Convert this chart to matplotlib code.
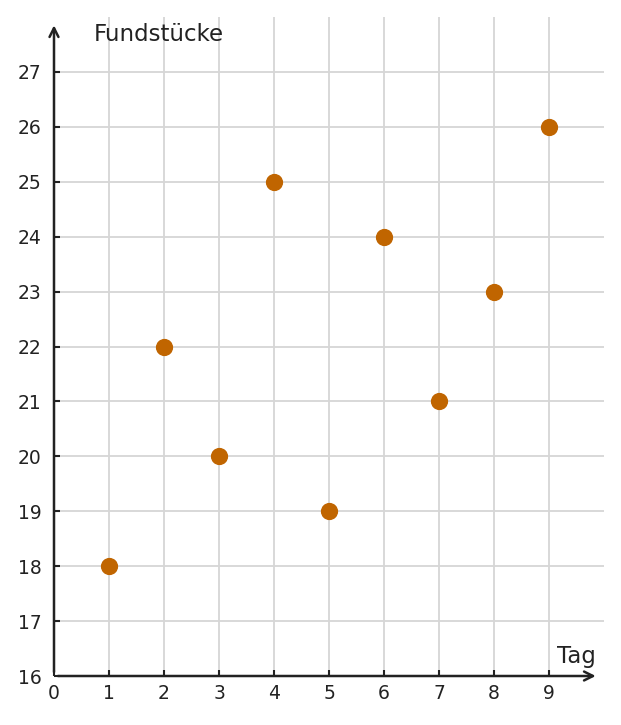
import matplotlib.pyplot as plt

# Daten
tage = [1, 2, 3, 4, 5, 6, 7, 8, 9]
fundstuecke = [18, 22, 20, 25, 19, 24, 21, 23, 26]
x_ticks = [0, 1, 2, 3, 4, 5, 6, 7, 8, 9]
y_ticks = [16, 17, 18, 19, 20, 21, 22, 23, 24, 25, 26, 27]

fig = plt.figure(figsize=(6.21, 7.25), dpi=100)
ax = fig.add_axes([54 / 621, 49 / 725, 550 / 621, 659 / 725])
ax.set_xlim(0, 10)
ax.set_ylim(16, 28)

# Gitter
for x in range(1, 10):
    ax.plot([x, x], [16, 28], color="#d6d6d6", lw=1.3, zorder=0)
for y in range(17, 28):
    ax.plot([0, 10], [y, y], color="#d6d6d6", lw=1.3, zorder=0)

for s in ax.spines.values():
    s.set_visible(False)

# Achsen mit Pfeilen
ax.annotate("", xy=(9.9, 16), xytext=(0.02, 16),
            arrowprops=dict(arrowstyle="->", color="#222222", lw=1.8, mutation_scale=16),
            annotation_clip=False)
ax.annotate("", xy=(0, 27.9), xytext=(0, 16.02),
            arrowprops=dict(arrowstyle="->", color="#222222", lw=1.8, mutation_scale=16),
            annotation_clip=False)

ax.set_xticks(x_ticks)
ax.set_yticks(y_ticks)
ax.tick_params(direction="in", length=4, width=1.5, color="#222222",
               labelsize=13.5, labelcolor="#222222")
ax.tick_params(axis="y", pad=9)
ax.tick_params(axis="x", pad=6)

ax.scatter(tage, fundstuecke, s=130, color="#c06500", zorder=3, clip_on=False)

ax.text(0.73, 27.69, "Fundstücke", fontsize=16.5, color="#222222", va="center", ha="left")
ax.text(9.85, 16.36, "Tag", fontsize=16.5, color="#222222", va="center", ha="right")

fig.savefig("out.png", dpi=100)
